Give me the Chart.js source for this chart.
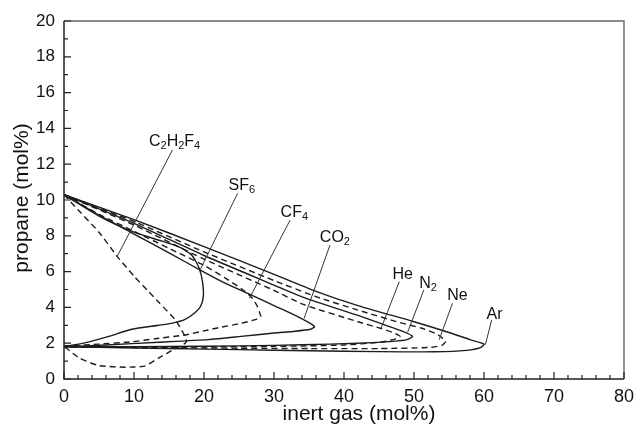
<!DOCTYPE html>
<html>
<head>
<meta charset="utf-8">
<script src="https://cdn.jsdelivr.net/npm/chart.js@4.4.0/dist/chart.umd.min.js"></script>
<style>
html, body { margin: 0; padding: 0; background: #fff; }
</style>
</head>
<body>
<canvas id="chartFlam" width="641" height="429"></canvas>
<script>
// envelopes: [inert gas mol%, propane mol%], upper branch -> nose -> lower branch
var ar = [[0,10.3],[10,8.9],[20,7.4],[30,5.85],[36,4.9],[42,4.1],[50,3.2],[55,2.6],[58,2.2],[60,1.95],[59.5,1.75],[57.5,1.6],[53,1.52],[45,1.53],[35,1.58],[25,1.64],[15,1.7],[5,1.77],[0,1.8]];
var ne = [[0,10.3],[10,8.8],[20,7.1],[30,5.5],[36,4.6],[42,3.85],[48,3.15],[51,2.85],[53.3,2.5],[54.5,2.1],[54,1.88],[52,1.76],[45,1.7],[35,1.7],[25,1.72],[15,1.75],[5,1.78],[0,1.8]];
var n2 = [[0,10.3],[10,8.7],[20,6.9],[30,5.25],[34.3,4.55],[42,3.55],[46,3.0],[48.5,2.65],[49.8,2.38],[49,2.2],[47,2.1],[44,2.03],[38,1.95],[30,1.88],[20,1.83],[10,1.81],[0,1.8]];
var he = [[0,10.3],[10,8.6],[20,6.7],[30,4.95],[34.3,4.15],[42,3.2],[45.3,2.82],[47,2.6],[48,2.38],[47,2.2],[45,2.05],[40,1.9],[30,1.82],[20,1.8],[0,1.8]];
var co2 = [[0,10.3],[5,9.15],[10,8.1],[15,7.05],[19.6,6.05],[23,5.35],[26.7,4.7],[30,4.1],[33.3,3.5],[35,3.15],[35.8,2.92],[35.2,2.78],[33,2.67],[30,2.57],[25.3,2.38],[20.6,2.2],[13.5,2.05],[6,1.9],[0,1.8]];
var cf4 = [[0,10.3],[5,9.2],[10,8.25],[15,7.3],[20,6.35],[23,5.65],[25.5,5.0],[26.7,4.6],[27.5,4.15],[27.9,3.75],[28.1,3.48],[27.2,3.3],[25.3,3.11],[22.5,2.9],[20.6,2.74],[17.3,2.46],[13,2.25],[9.7,2.08],[5,1.95],[0,1.85]];
var sf6 = [[0,10.3],[5,9.1],[10,8.2],[14,7.7],[16.6,7.35],[18.3,6.9],[19.3,6.2],[19.8,5.4],[19.9,4.6],[19.5,4.05],[18.7,3.7],[17.3,3.33],[15.5,3.12],[13.5,3.0],[9.7,2.78],[6.4,2.38],[3.1,2.03],[0,1.8]];
var c2h2f4 = [[0,10.3],[2,9.45],[5,8.2],[7.6,6.85],[10,5.75],[12.1,4.88],[13.5,4.3],[15.9,3.3],[17,2.6],[17.5,2.1],[16.8,1.85],[15.9,1.7],[13.5,1.17],[11.6,0.73],[10,0.67],[8.8,0.66],[5,0.75],[2.2,1.17],[0.3,1.73],[0,1.8]];

var gasNames = ["Ar", "Ne", "N_2", "He", "CO_2", "CF_4", "SF_6", "C_2H_2F_4"];
var gasCurves = [ar, ne, n2, he, co2, cf4, sf6, c2h2f4];
var gasDashed = [false, true, false, true, false, true, false, true];

// where each name sits and where its pointer line goes (data units)
var noteText = [[61.5,3.7],[56.2,4.75],[52.0,5.42],[48.4,5.92],[38.7,7.99],[32.9,9.39],[25.4,10.9],[15.8,13.35]];
var noteFrom = [[61.1,3.3],[55.5,4.23],[51.4,4.97],[47.9,5.44],[38.0,7.49],[32.3,8.88],[24.8,10.37],[15.5,12.8]];
var noteTo = [[60.2,1.92],[53.6,2.2],[49.1,2.62],[45.3,2.83],[34.3,3.39],[26.5,4.51],[19.45,6.1],[7.6,6.85]];

var fontFam = '"Liberation Sans", Arial, Helvetica, sans-serif';

var toPts = function (arr) {
     return arr.map(function (p) { return {x: p[0], y: p[1]}; });
}

var datasets = gasCurves.map(function (c, i) {
     return {
          label: gasNames[i],
          data: toPts(c),
          showLine: true,
          fill: false,
          borderColor: '#1c1c1c',
          borderWidth: 1.4,
          borderDash: gasDashed[i] ? [6, 4] : [],
          pointRadius: 0,
          tension: 0.2
     };
});

// text with "_d" subscripts
var drawSubText = function (ctx, str, cx, cy, size) {
     var parts = [];
     for (var i = 0; i < str.length; i++) {
          if (str[i] === '_') { parts.push([str[i + 1], true]); i++; }
          else parts.push([str[i], false]);
     }
     var subSize = Math.round(size * 0.7);
     var w = 0;
     parts.forEach(function (p) {
          ctx.font = (p[1] ? subSize : size) + 'px ' + fontFam;
          w += ctx.measureText(p[0]).width;
     });
     var x = cx - w / 2;
     ctx.textAlign = 'left';
     ctx.textBaseline = 'alphabetic';
     var base = cy + size * 0.36;
     parts.forEach(function (p) {
          ctx.font = (p[1] ? subSize : size) + 'px ' + fontFam;
          ctx.fillText(p[0], x, p[1] ? base + size * 0.22 : base);
          x += ctx.measureText(p[0]).width;
     });
}

var framePlugin = {
     id: 'frame',
     afterDatasetsDraw: function (chart) {
          var ctx = chart.ctx;
          var a = chart.chartArea;
          var sx = chart.scales.x, sy = chart.scales.y;
          ctx.save();
          ctx.strokeStyle = '#666';
          ctx.lineWidth = 1.4;
          ctx.beginPath();
          ctx.moveTo(a.left, a.top); ctx.lineTo(a.right, a.top); ctx.lineTo(a.right, a.bottom);
          ctx.stroke();
          ctx.strokeStyle = '#222';
          ctx.lineWidth = 1.5;
          ctx.beginPath();
          ctx.moveTo(a.left, a.top); ctx.lineTo(a.left, a.bottom); ctx.lineTo(a.right, a.bottom);
          ctx.stroke();
          // inward ticks
          ctx.lineWidth = 1.2;
          ctx.beginPath();
          for (var v = 0; v <= 80; v += 2) {
               var px = sx.getPixelForValue(v);
               var len = (v % 10 === 0) ? 7 : 4;
               ctx.moveTo(px, a.bottom); ctx.lineTo(px, a.bottom - len);
          }
          for (var u = 0; u <= 20; u += 1) {
               var py = sy.getPixelForValue(u);
               var l2 = (u % 2 === 0) ? 7 : 4;
               ctx.moveTo(a.left, py); ctx.lineTo(a.left + l2, py);
          }
          ctx.stroke();
          // gas names with pointer lines
          ctx.strokeStyle = '#333';
          ctx.lineWidth = 1;
          ctx.beginPath();
          noteFrom.forEach(function (f, i) {
               ctx.moveTo(sx.getPixelForValue(f[0]), sy.getPixelForValue(f[1]));
               ctx.lineTo(sx.getPixelForValue(noteTo[i][0]), sy.getPixelForValue(noteTo[i][1]));
          });
          ctx.stroke();
          ctx.fillStyle = '#111';
          noteText.forEach(function (t, i) {
               drawSubText(ctx, gasNames[i], sx.getPixelForValue(t[0]), sy.getPixelForValue(t[1]), 16);
          });
          // axis titles
          ctx.font = '21px ' + fontFam;
          ctx.textAlign = 'center';
          ctx.textBaseline = 'alphabetic';
          ctx.fillText('inert gas (mol%)', 359, 420);
          ctx.translate(28, (a.top + a.bottom) / 2 - 2);
          ctx.rotate(-Math.PI / 2);
          ctx.fillText('propane (mol%)', 0, 0);
          ctx.restore();
     }
};

window.onload = function () {
     var ctx = document.getElementById('chartFlam').getContext('2d');
     window.flamChart = new Chart(ctx, {
          type: 'scatter',
          data: { datasets: datasets },
          options: {
               responsive: false,
               animation: false,
               layout: { padding: { top: 21, right: 10, left: 0, bottom: 0 } },
               plugins: { legend: { display: false }, tooltip: { enabled: false } },
               scales: {
                    x: {
                         type: 'linear', min: 0, max: 80,
                         grid: { display: false, drawTicks: false },
                         border: { display: false },
                         ticks: { stepSize: 10, padding: 7, color: '#111', font: { family: fontFam, size: 18 } },
                         afterFit: function (s) { s.height = 50; }
                    },
                    y: {
                         type: 'linear', min: 0, max: 20,
                         grid: { display: false, drawTicks: false },
                         border: { display: false },
                         ticks: { stepSize: 2, padding: 9, color: '#111', font: { family: fontFam, size: 17 } },
                         afterFit: function (s) { s.width = 64; }
                    }
               }
          },
          plugins: [framePlugin]
     });
};
</script>
</body>
</html>
